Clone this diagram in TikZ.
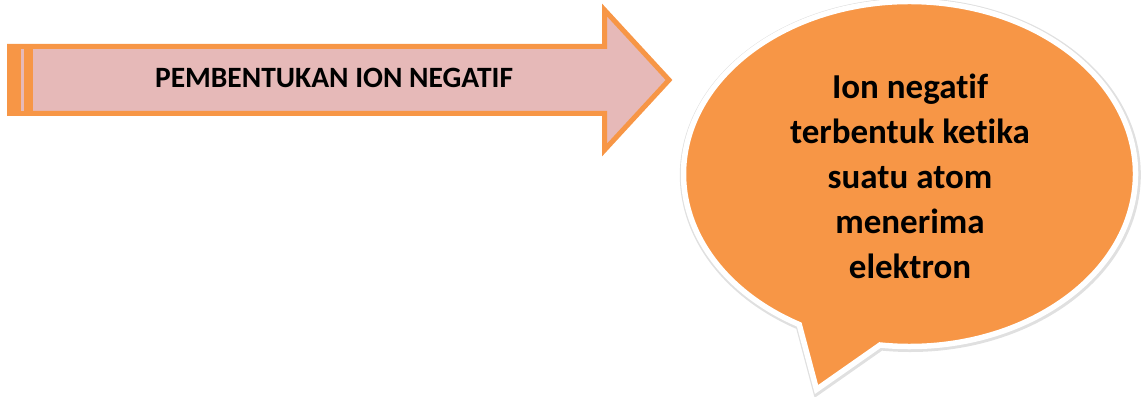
\documentclass[tikz,border=0pt]{standalone}
\usepackage{fontspec}
\setmainfont[RawFeature=-liga]{Carlito}
\definecolor{arroworange}{HTML}{F79646}
\definecolor{arrowpink}{HTML}{E6B9B8}
\definecolor{bubbleorange}{HTML}{F79646}
\tikzset{
  arrowshape/.style={draw=arroworange, fill=arrowpink, line width=5pt, line join=miter},
  bubbleshape/.style={fill=bubbleorange, draw=white, line width=5.5pt, line join=miter},
  bubbleshadow/.style={draw=black!12, line width=9pt, line join=miter},
  titletext/.style={font=\bfseries\fontsize{29.5}{34}\selectfont, text=black},
  bubbletext/.style={font=\bfseries\fontsize{35}{45}\selectfont, text=black, align=center},
}
\begin{document}
\begin{tikzpicture}[x=1pt,y=1pt]
\useasboundingbox (0,0) rectangle (1142,396);
% arrow
\draw[arrowshape] (9.5,349.5) -- (604.5,349.5) -- (604.5,386) -- (669,316) -- (604.5,246) -- (604.5,282.5) -- (9.5,282.5) -- cycle;
\fill[arroworange] (7,280) rectangle (33,352);
\fill[arrowpink] (21,285) rectangle (24,347);
\node[titletext] (title) at (334,318) {PEMBENTUKAN ION NEGATIF};
% bubble
\path[bubbleshadow, shift={(0.8,-1)}] (909.5,222) ++(262.5:226 and 172.5) arc[start angle=262.5, end angle=600.8, x radius=226, y radius=172.5] -- (816.5,6.5) -- cycle;
\path[bubbleshape] (909.5,222) ++(262.5:226 and 172.5) arc[start angle=262.5, end angle=600.8, x radius=226, y radius=172.5] -- (816.5,6.5) -- cycle;
\node[bubbletext] (msg) at (910,220) {Ion negatif\\terbentuk ketika\\suatu atom\\menerima\\elektron};
\end{tikzpicture}
\end{document}
